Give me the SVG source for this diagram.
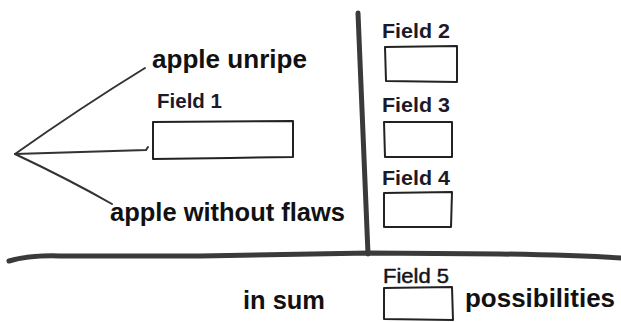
<svg xmlns="http://www.w3.org/2000/svg" width="621" height="322" viewBox="0 0 621 322">
<style>
.lbl{font-family:"Liberation Sans",Arial,sans-serif;font-weight:bold;fill:#111;}
.big{font-size:26px;}
.fld{font-size:21px;fill:#1c1a28;}
.box{fill:none;stroke:#222;stroke-width:2;stroke-linejoin:round;}
.br{fill:none;stroke:#333;stroke-width:2;stroke-linecap:round;}
.bar{fill:none;stroke:#3a3a3a;stroke-width:5;stroke-linecap:round;}
</style>
<rect width="621" height="322" fill="#fff"/>
<g id="connectors">
<path class="br" d="M15,154 Q80,108 145,68"/>
<path class="br" d="M15,154 L146,150 L148,147"/>
<path class="br" d="M15,154 Q70,180 112,204"/>
<path class="bar" d="M358,13 L368,254"/>
<path class="bar" d="M9,261 Q30,255 60,256 L200,256 Q300,254 370,253 L500,254 Q570,255 621,258"/>
</g>
<g id="apple-unripe"><text class="lbl big" x="152" y="68" textLength="155" lengthAdjust="spacingAndGlyphs">apple unripe</text></g>
<g id="apple-without-flaws"><text class="lbl big" x="110" y="221" textLength="235" lengthAdjust="spacingAndGlyphs">apple without flaws</text></g>
<g id="field1">
<text class="lbl fld" x="157" y="108" textLength="65" lengthAdjust="spacingAndGlyphs">Field 1</text>
<path class="box" d="M153,122 L293,121 L293,157 L230,158 L153,159 Z"/>
</g>
<g id="field2">
<text class="lbl fld" x="382" y="38" textLength="68" lengthAdjust="spacingAndGlyphs">Field 2</text>
<path class="box" d="M385,47 L457,46 L457,82 L386,81 Z"/>
</g>
<g id="field3">
<text class="lbl fld" x="382" y="112" textLength="68" lengthAdjust="spacingAndGlyphs">Field 3</text>
<path class="box" d="M384,122 L452,122 L452,157 L385,157 Z"/>
</g>
<g id="field4">
<text class="lbl fld" x="382" y="185" textLength="68" lengthAdjust="spacingAndGlyphs">Field 4</text>
<path class="box" d="M384,193 L452,192 L451,227 L384,227 Z"/>
</g>
<g id="field5">
<text class="lbl" x="383" y="283" font-size="21" fill="#1c1a28" stroke="#1c1a28" stroke-width="0.5" textLength="66" lengthAdjust="spacingAndGlyphs" style="font-weight:normal">Field 5</text>
<path class="box" d="M384,288 L452,287 L453,320 L384,319 Z"/>
</g>
<g id="in-sum"><text class="lbl big" x="243" y="309" textLength="82" lengthAdjust="spacingAndGlyphs">in sum</text></g>
<g id="possibilities"><text class="lbl big" x="465" y="307" textLength="150" lengthAdjust="spacingAndGlyphs">possibilities</text></g>
</svg>
